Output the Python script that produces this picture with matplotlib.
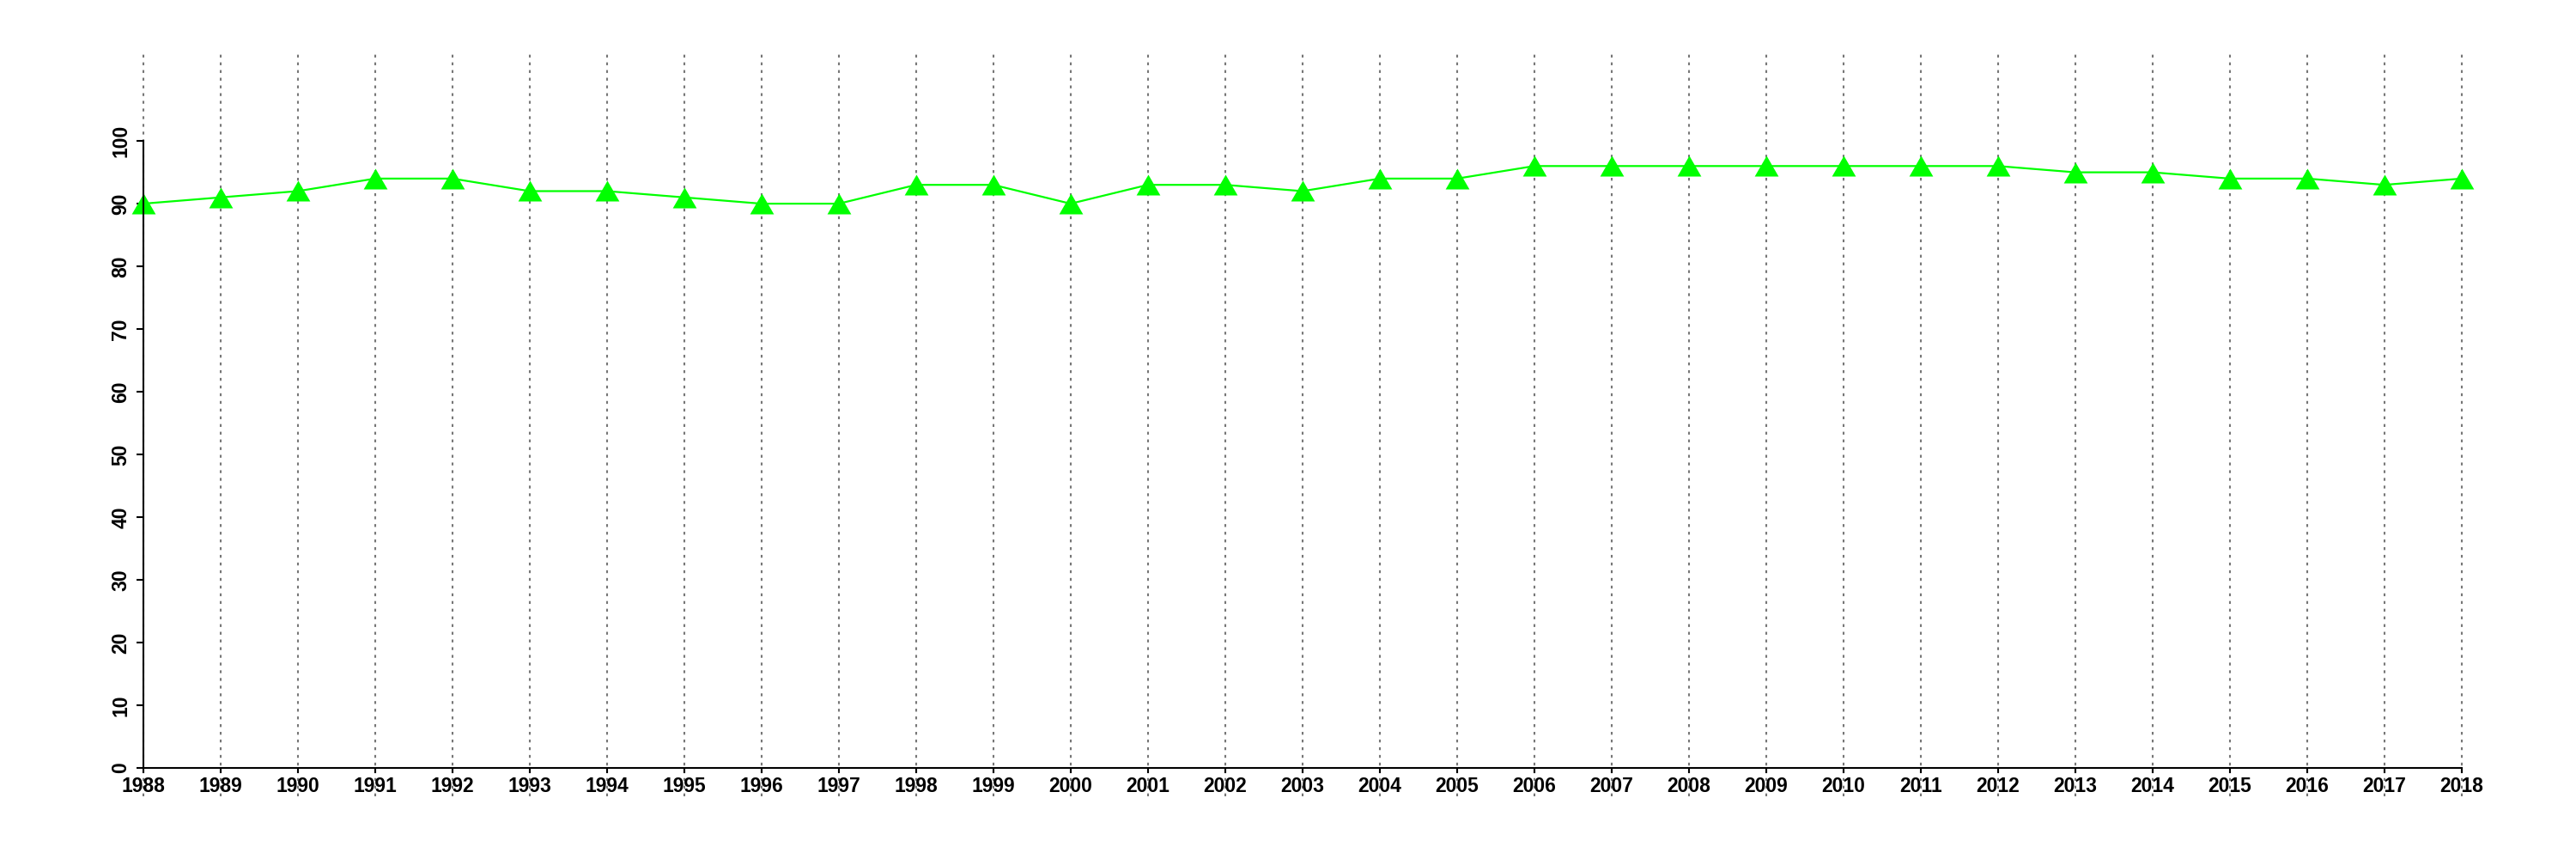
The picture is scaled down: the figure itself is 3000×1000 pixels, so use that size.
import matplotlib
matplotlib.use("Agg")
from matplotlib import pyplot as plt

# data
years = list(range(1988, 2019))
values = [90, 91, 92, 94, 94, 92, 92, 91, 90, 90,
          93, 93, 90, 93, 93, 92, 94, 94, 96, 96,
          96, 96, 96, 96, 96, 95, 95, 94, 94, 93, 94]
y_ticks = list(range(0, 101, 10))

plt.rcParams["font.family"] = ["Liberation Sans", "DejaVu Sans"]

fig = plt.figure(figsize=(30, 10), dpi=100)
ax = fig.add_axes([0.0556, 0.106, 0.9, 0.835])

ax.set_xlim(years[0], years[-1])
ax.set_ylim(0, 114.4)

# dotted vertical grid running past the plot area (like R with xpd)
for yr in years:
    ax.plot([yr, yr], [-4.5, 114.4], color="#777777", linestyle=(0, (1.6, 2.7)),
            linewidth=1.5, clip_on=False, zorder=1)

# equilateral-ish filled triangle, like R's pch 17
tri = [(-1, -0.866), (1, -0.866), (0, 0.866), (-1, -0.866)]
ax.plot(years, values, color="#00ff00", linewidth=1.6, marker=tri,
        markersize=20, markeredgewidth=0, clip_on=False, zorder=3)

# R-style axes: spines only over the tick range
for side in ["top", "right"]:
    ax.spines[side].set_visible(False)
ax.spines["left"].set_bounds(0, 100)
ax.spines["bottom"].set_bounds(years[0], years[-1])
for side in ["left", "bottom"]:
    ax.spines[side].set_linewidth(1.5)
    ax.spines[side].set_zorder(4)

ax.set_xticks(years)
ax.set_xticklabels([str(y) for y in years], fontsize=16.5, fontweight="bold")
ax.set_yticks(y_ticks)
ax.set_yticklabels([str(v) for v in y_ticks], fontsize=16.5, fontweight="bold",
                   rotation=90, va="center")
ax.tick_params(axis="both", direction="out", width=1.5)
ax.tick_params(axis="x", length=4.5, pad=3)
ax.tick_params(axis="y", length=5.5, pad=5)

fig.savefig("out.png", dpi=100)
